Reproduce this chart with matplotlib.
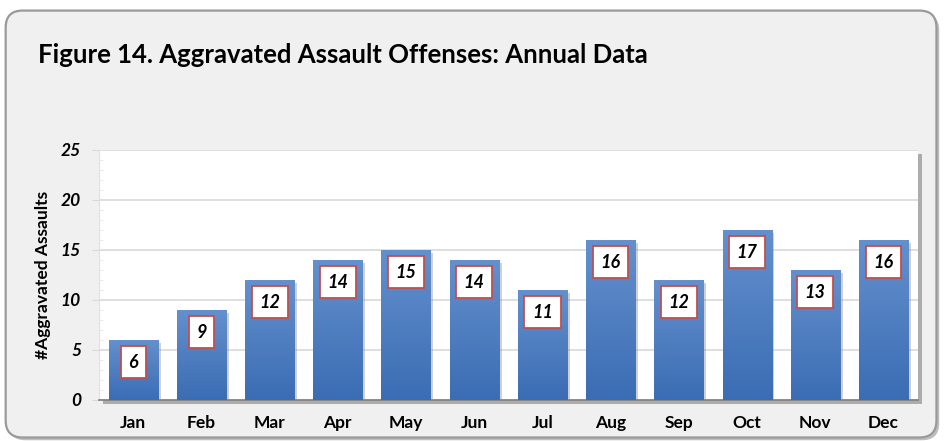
import numpy as np
import matplotlib
matplotlib.use('Agg')
import matplotlib.pyplot as plt
from matplotlib.patches import FancyBboxPatch
from matplotlib.colors import LinearSegmentedColormap
import matplotlib.patheffects as pe

plt.rcParams['font.family'] = ['Lato', 'DejaVu Sans']

# data
months = ['Jan', 'Feb', 'Mar', 'Apr', 'May', 'Jun',
          'Jul', 'Aug', 'Sep', 'Oct', 'Nov', 'Dec']
assaults = [6, 9, 12, 14, 15, 14, 11, 16, 12, 17, 13, 16]
y_ticks = [0, 5, 10, 15, 20, 25]

title = 'Figure 14. Aggravated Assault Offenses: Annual Data'
y_label = '#Aggravated Assaults'

fig = plt.figure(figsize=(9.44, 4.41), dpi=100)
fig.patch.set_facecolor('white')

# rounded outer frame
frame = FancyBboxPatch((0.006, 0.008), 0.986, 0.968,
                       boxstyle='round,pad=0,rounding_size=0.018',
                       mutation_aspect=944 / 441,
                       transform=fig.transFigure, zorder=-10,
                       facecolor='#f0f0f0', edgecolor='#9a9a9a', linewidth=1.6,
                       path_effects=[pe.withSimplePatchShadow(offset=(2, -2), shadow_rgbFace='#7f7f7f', alpha=0.5)])
fig.patches.append(frame)

fig.text(0.040, 0.875, title, fontsize=18.5, fontweight='bold', color='black',
         ha='left', va='center')

ax = fig.add_axes([0.105, 0.093, 0.867, 0.567])
ax.set_facecolor('white')
ax.patch.set_path_effects([pe.withSimplePatchShadow(offset=(3, -3), shadow_rgbFace='#808080', alpha=0.6)])

x = np.arange(len(months))
bars = ax.bar(x, assaults, width=0.72, color='#4a7cc0', zorder=3,
              path_effects=[pe.withSimplePatchShadow(offset=(2, -2), shadow_rgbFace='#8a8a8a', alpha=0.4)])

# vertical gradient inside each bar
cmap = LinearSegmentedColormap.from_list('bluegrad', ['#3b6db4', '#6490cd'])
grad = np.linspace(0, 1, 256).reshape(-1, 1)
for b in bars:
    im = ax.imshow(grad, extent=[b.get_x(), b.get_x() + b.get_width(), 0, b.get_height()],
                   origin='lower', aspect='auto', cmap=cmap, zorder=4)
    im.set_clip_path(b)

# value labels in boxes
for b, v in zip(bars, assaults):
    ax.annotate(str(v), (b.get_x() + b.get_width() / 2, v), xytext=(0, -16),
                textcoords='offset points', ha='center', va='center',
                fontsize=13, fontweight='bold', fontstyle='italic', zorder=6,
                bbox=dict(boxstyle='square,pad=0.42', facecolor='white',
                          edgecolor='#c0504d', linewidth=1.3))

ax.set_xlim(-0.5, len(months) - 0.5)
ax.set_ylim(0, 25)
ax.set_yticks(y_ticks)
ax.set_yticklabels([str(t) for t in y_ticks], fontsize=12.5, fontweight='bold', fontstyle='italic')
ax.set_yticks(np.arange(0, 25, 1), minor=True)
ax.set_xticks(x)
ax.set_xticklabels(months, fontsize=12.5, fontweight='bold')
ax.tick_params(axis='x', length=0, pad=11)
ax.tick_params(axis='y', which='major', length=5, color='#d9d9d9', pad=8)
ax.tick_params(axis='y', which='minor', length=3, color='#e6e6e6', direction='in')
ax.grid(axis='y', color='#d9d9d9', linewidth=1.2, zorder=1)
ax.set_axisbelow(True)

for side in ['top', 'right']:
    ax.spines[side].set_visible(False)
ax.spines['left'].set_color('#e0e0e0')
ax.spines['bottom'].set_color('#7f7f7f')
ax.spines['bottom'].set_linewidth(1.2)

fig.text(0.046, 0.376, y_label, rotation=90, fontsize=12.5, fontweight='bold',
         ha='center', va='center')

fig.savefig('out.png', dpi=100, facecolor=fig.get_facecolor())
